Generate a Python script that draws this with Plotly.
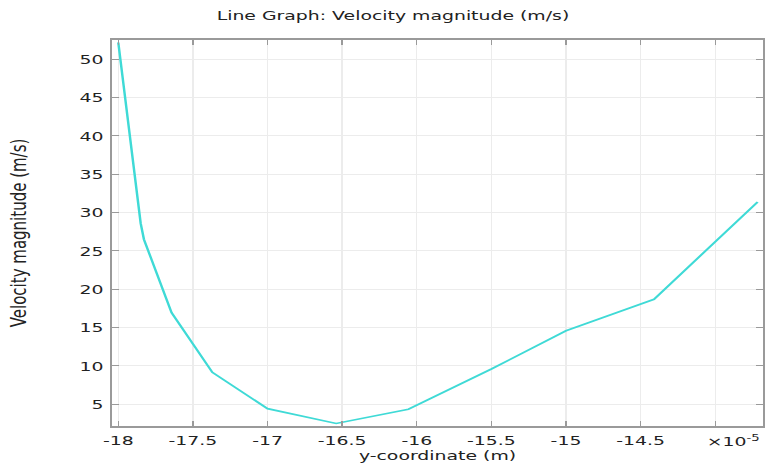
import plotly.graph_objects as go

# Velocity magnitude along the cut line (y in metres, |u| in m/s)
y_coord = [-18.0e-5, -17.85e-5, -17.828e-5, -17.643e-5, -17.37e-5, -17.0e-5,
           -16.54e-5, -16.056e-5, -15.5e-5, -15.0e-5, -14.41e-5, -13.716e-5]
velocity = [52.2, 28.6, 26.5, 16.95, 9.17, 4.43, 2.5, 4.35, 9.6, 14.6, 18.7, 31.4]

x_tick_vals = [-18e-5, -17.5e-5, -17e-5, -16.5e-5, -16e-5, -15.5e-5, -15e-5, -14.5e-5]
x_tick_text = ["-18", "-17.5", "-17", "-16.5", "-16", "-15.5", "-15", "-14.5"]
x_extra_tick = [-14e-5]   # tick + grid only; its label slot holds the multiplier
y_tick_vals = [5, 10, 15, 20, 25, 30, 35, 40, 45, 50]

# The page is laid out narrow and widened with a horizontal scale
SX = 1.4511
W, H = 532, 466
L, R, T, B = 76.5, 6.2, 40, 40

font = "DejaVu Sans"
txt = "#222222"
axis_col = "#9a9a9a"
grid_col = "#ececec"

fig = go.Figure()
fig.add_trace(go.Scatter(
    x=y_coord, y=velocity, mode="lines",
    line=dict(color="#3fdad6", width=1.7),
    showlegend=False, hoverinfo="skip",
))

fig.update_layout(
    width=W, height=H,
    margin=dict(l=L, r=R, t=T, b=B, pad=0),
    paper_bgcolor="white", plot_bgcolor="white",
    font=dict(family=font, size=13, color=txt),
    title=dict(text="Line Graph: Velocity magnitude (m/s)",
               x=393 / 772, xref="container", xanchor="center",
               y=1 - 15 / H, yref="container", yanchor="middle",
               font=dict(family=font, size=13, color=txt)),
    xaxis=dict(
        range=[-18.044e-5, -13.678e-5],
        tickmode="array", tickvals=x_tick_vals, ticktext=x_tick_text,
        ticks="inside", ticklen=5, tickcolor=axis_col, tickwidth=1,
        minor=dict(tickmode="array", tickvals=x_extra_tick, ticks="inside",
                   ticklen=5, tickcolor=axis_col, tickwidth=1,
                   showgrid=True, gridcolor=grid_col, gridwidth=1),
        showline=True, linecolor=axis_col, linewidth=1.5, mirror="ticks",
        showgrid=True, gridcolor=grid_col, gridwidth=1,
        zeroline=False, tickfont=dict(family=font, size=13, color=txt),
        ticklabelstandoff=2,
        title=dict(text="y-coordinate (m)", standoff=0,
                   font=dict(family=font, size=13, color=txt)),
    ),
    yaxis=dict(
        range=[2.17, 52.52],
        tickmode="array", tickvals=y_tick_vals,
        ticks="inside", ticklen=5, tickcolor=axis_col, tickwidth=1,
        showline=True, linecolor=axis_col, linewidth=1.2, mirror="ticks",
        showgrid=True, gridcolor=grid_col, gridwidth=1,
        zeroline=False, tickfont=dict(family=font, size=13, color=txt),
        ticklabelstandoff=2,
        title=dict(text="Velocity magnitude (m/s)", standoff=32,
                   font=dict(family=font, size=15, color=txt)),
    ),
    annotations=[
        dict(text="×10<sup>-5</sup>", xref="paper", yref="paper",
             x=1, y=0, xanchor="right", yanchor="top", yshift=-5,
             showarrow=False, font=dict(family=font, size=13, color=txt)),
    ],
)

stretch_js = """
document.documentElement.style.margin = '0';
document.body.style.margin = '0';
var gd = document.getElementById('{plot_id}');
gd.style.transformOrigin = '0 0';
gd.style.transform = 'scaleX(%s)';
""" % SX

fig.write_html("out.html", config={"displayModeBar": False}, post_script=stretch_js)
